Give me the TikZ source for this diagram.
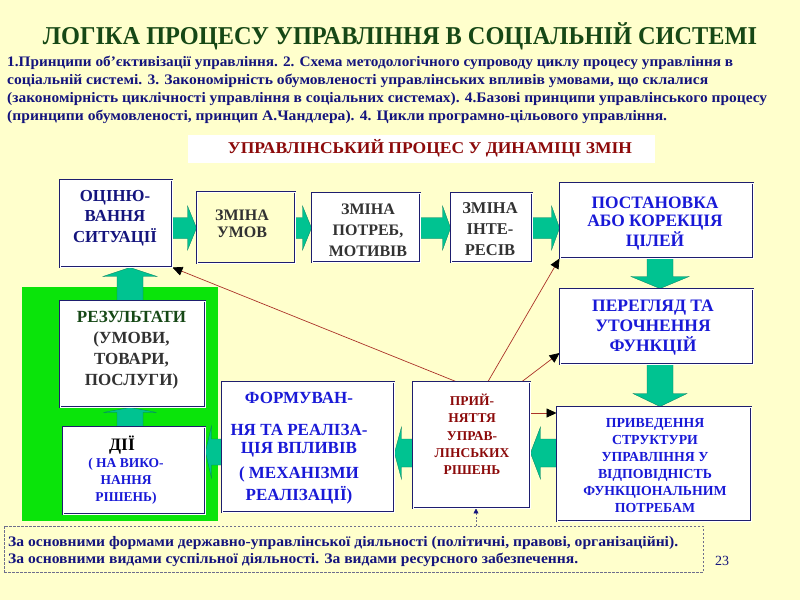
\documentclass[tikz,border=0pt]{standalone}
\usepackage{fontspec}
\setmainfont{Liberation Serif}
\newfontfamily\cond[FakeStretch=0.9]{Liberation Serif}
\usepackage{graphicx}
\usetikzlibrary{arrows.meta,calc}
\definecolor{bgC}{RGB}{255,255,204}
\definecolor{titleC}{RGB}{22,72,22}
\definecolor{navyC}{RGB}{20,20,125}
\definecolor{blueC}{RGB}{25,25,215}
\definecolor{redC}{RGB}{140,10,10}
\definecolor{grayC}{RGB}{50,50,50}
\definecolor{tealC}{RGB}{0,195,145}
\definecolor{greenC}{RGB}{10,228,10}
\definecolor{frameC}{RGB}{30,30,110}
\definecolor{lineC}{RGB}{170,50,40}
\definecolor{dashC}{RGB}{110,110,140}
\newcommand\fitw[2]{\resizebox{#1}{\height}{#2}}
\pgfdeclarelayer{back}
\pgfdeclarelayer{mid}
\pgfsetlayers{back,mid,main}
\newcommand\barrow[5]{%
  \coordinate (ba1) at (#1);
  \coordinate (ba2) at (#2);
  \coordinate (bah) at ($(ba2)!#5!(ba1)$);
  \filldraw[blockarrow] ($(ba1)!#3!90:(ba2)$) -- ($(bah)!#3!-90:(ba1)$) -- ($(bah)!#4!-90:(ba1)$) -- (ba2) -- ($(bah)!#4!90:(ba1)$) -- ($(bah)!#3!90:(ba1)$) -- ($(ba1)!#3!-90:(ba2)$) -- cycle;}
\begin{document}
\begin{tikzpicture}[x=1pt,y=-1pt,
  frame/.style={draw=frameC, line width=0.9pt, double=white, double distance=0.9pt, fill=white, inner sep=0pt},
  txt/.style={align=center, inner sep=0pt},
  blockarrow/.style={fill=tealC, draw=tealC!65!black, line width=0.3pt},
  redline/.style={draw=lineC, line width=0.7pt, -{Triangle[length=10pt,width=9pt,fill=black,color=black]}},
  para/.style={inner sep=0pt, anchor=west, text=navyC, font=\bfseries\fontsize{14.5}{15}\selectfont}]
\useasboundingbox (0,0) rectangle (800,600);
\begin{pgfonlayer}{back}
\fill[bgC] (0,0) rectangle (800,600);
% green area
\node[fill=greenC, inner sep=0pt, minimum width=196pt, minimum height=234pt] (grn) at (120,404) {};
\end{pgfonlayer}

% title and paragraph
\node[inner sep=0pt, text=titleC, font=\bfseries\fontsize{25.7}{30}\selectfont] (title) at (400,36) {\fitw{714pt}{ЛОГІКА ПРОЦЕСУ УПРАВЛІННЯ В СОЦІАЛЬНІЙ СИСТЕМІ}};
\node[para] (p1) at (7,62.5) {\fitw{726pt}{1.Принципи об'єктивізації управління. 2. Схема методологічного супроводу циклу процесу управління в}};
\node[para] (p2) at (7,81) {\fitw{701pt}{соціальній системі. 3. Закономірність обумовленості управлінських впливів умовами, що склалися}};
\node[para] (p3) at (7,99) {\fitw{760pt}{(закономірність циклічності управління в соціальних системах). 4.Базові принципи управлінського процесу}};
\node[para] (p4) at (7,117) {\fitw{660pt}{(принципи обумовленості, принцип А.Чандлера). 4. Цикли програмно-цільового управління.}};

% banner
\node[fill=white, inner sep=0pt, minimum width=467pt, minimum height=28pt] (banr) at (421.5,149) {};
\node[inner sep=0pt, text=redC, font=\bfseries\fontsize{16.5}{18}\selectfont] (bant) at (430,148) {\fitw{404pt}{УПРАВЛІНСЬКИЙ ПРОЦЕС У ДИНАМІЦІ ЗМІН}};

% boxes
\node[frame, minimum width=112pt, minimum height=87pt] (ocin) at (116,223.5) {};
\node[txt, text=navyC, font=\bfseries\fontsize{16.8}{20.5}\selectfont] (ocint) at (115,218) {ОЦІНЮ-\\ВАННЯ\\СИТУАЦІЇ};

\node[frame, fill=bgC, minimum width=98pt, minimum height=71pt] (umov) at (246,227.5) {};
\node[txt, text=grayC, font=\bfseries\fontsize{16}{17.5}\selectfont] (umovt) at (242,224) {ЗМІНА\\УМОВ};

\node[frame, minimum width=108pt, minimum height=69pt] (potr) at (366,227.5) {};
\node[txt, text=grayC, font=\bfseries\fontsize{16}{21}\selectfont] (potrt) at (368,230) {ЗМІНА\\ПОТРЕБ,\\МОТИВІВ};

\node[frame, minimum width=81pt, minimum height=69pt] (inte) at (491.5,227.5) {};
\node[txt, text=grayC, font=\bfseries\fontsize{16.5}{21}\selectfont] (intet) at (490,229) {ЗМІНА\\ІНТЕ-\\РЕСІВ};

\node[frame, minimum width=193pt, minimum height=75pt] (post) at (656.5,220.5) {};
\node[txt, text=blueC, font=\bfseries\fontsize{17.4}{18.5}\selectfont] (postt) at (655,223.5) {ПОСТАНОВКА\\АБО КОРЕКЦІЯ\\ЦІЛЕЙ};

\node[frame, minimum width=193pt, minimum height=75pt] (perg) at (656.5,326.5) {};
\node[txt, text=blueC, font=\bfseries\fontsize{17.5}{20}\selectfont] (pergt) at (653,328) {ПЕРЕГЛЯД ТА\\УТОЧНЕННЯ\\ФУНКЦІЙ};

\node[frame, minimum width=194pt, minimum height=114pt] (prived) at (654,464) {};
\node[txt, text=blueC, font=\bfseries\fontsize{13.8}{17}\selectfont] (privedt) at (655,465.5) {ПРИВЕДЕННЯ\\СТРУКТУРИ\\УПРАВЛІННЯ У\\ВІДПОВІДНІСТЬ\\ФУНКЦІОНАЛЬНИМ\\ПОТРЕБАМ};

\node[frame, minimum width=117pt, minimum height=126pt] (prij) at (471.5,445) {};
\node[txt, text=redC, font=\bfseries\fontsize{13.5}{17.3}\selectfont] (prijt) at (472,434.5) {ПРИЙ-\\НЯТТЯ\\УПРАВ-\\ЛІНСЬКИХ\\РІШЕНЬ};

\node[frame, minimum width=172pt, minimum height=130pt] (form) at (308,447) {};
\node[txt, text=blueC, font=\bfseries\fontsize{17}{20}\selectfont] (formt) at (299,448.5) {ФОРМУВАН-\\[12pt]НЯ ТА РЕАЛІЗА-\\[-2pt]ЦІЯ ВПЛИВІВ\\[5pt]( МЕХАНІЗМИ\\[2pt]РЕАЛІЗАЦІЇ)};

\node[frame, minimum width=145pt, minimum height=106pt] (rez) at (132.5,354) {};
\node[txt, text=grayC, font=\bfseries\fontsize{17}{21}\selectfont] (rezt) at (131.5,350.5) {{\color{titleC}РЕЗУЛЬТАТИ}\\(УМОВИ,\\ТОВАРИ,\\ПОСЛУГИ)};

\node[frame, minimum width=142pt, minimum height=87pt] (dii) at (134,470.5) {};
\node[txt, text=black, font=\bfseries\fontsize{17.5}{17}\selectfont] (diit) at (122,445) {ДІЇ};
\node[txt, text=blueC, font=\bfseries\fontsize{13.5}{17}\selectfont] (diit2) at (126,481) {( НА ВИКО-\\НАННЯ\\РІШЕНЬ)};

% notes box
\node[draw=dashC, line width=0.7pt, dash pattern=on 2.5pt off 1.5pt, inner sep=0pt, minimum width=699pt, minimum height=46pt] (notes) at (353.5,549) {};
\node[para] (n1) at (8,543) {\fitw{670pt}{За основними формами державно-управлінської діяльності (політичні, правові, організаційні).}};
\node[para] (n2) at (8,560) {\fitw{570pt}{За основними видами суспільної діяльності. За видами ресурсного забезпечення.}};
\node[inner sep=0pt, text=navyC, font=\fontsize{14}{14}\selectfont] (pnum) at (722,561) {23};

\begin{pgfonlayer}{mid}
\barrow{ocin.east |- 0,228}{umov.west |- 0,228}{10.5pt}{22pt}{9pt}
\barrow{umov.east |- 0,228}{potr.west |- 0,228}{10.5pt}{22pt}{9pt}
\barrow{potr.east |- 0,228}{inte.west |- 0,228}{10.5pt}{22pt}{8pt}
\barrow{inte.east |- 0,228}{post.west |- 0,228}{10.5pt}{22pt}{8pt}
\barrow{post.south -| 660,0}{perg.north -| 660,0}{13pt}{29pt}{12pt}
\barrow{perg.south -| 660,0}{prived.north -| 660,0}{13pt}{27pt}{13pt}
\barrow{prived.west |- 0,453}{prij.east |- 0,453}{14pt}{26pt}{10pt}
\barrow{prij.west |- 0,453}{form.east |- 0,453}{14pt}{26pt}{7pt}
\barrow{form.west |- 0,452}{dii.east |- 0,452}{13pt}{26pt}{6pt}
\barrow{dii.north -| 130,0}{rez.south -| 130,0}{13pt}{26.5pt}{5pt}
\barrow{rez.north -| 130,0}{ocin.south -| 130,0}{13pt}{27pt}{9pt}
\draw[redline] (prij.north -| 456,0) -- (ocin.south east);
\draw[redline] (prij.north -| 488,0) -- (post.south west);
\draw[redline] (prij.north -| 522,0) -- (perg.west |- 0,353);
\draw[redline] (prij.east |- 0,413) -- (prived.west |- 0,413);
\draw[dashC, line width=0.7pt, dash pattern=on 2pt off 1.5pt, -{Triangle[length=5pt,width=5pt,fill=navyC,color=navyC]}] (notes.north -| 476,0) -- (prij.south -| 476,0);
\end{pgfonlayer}
\end{tikzpicture}
\end{document}
